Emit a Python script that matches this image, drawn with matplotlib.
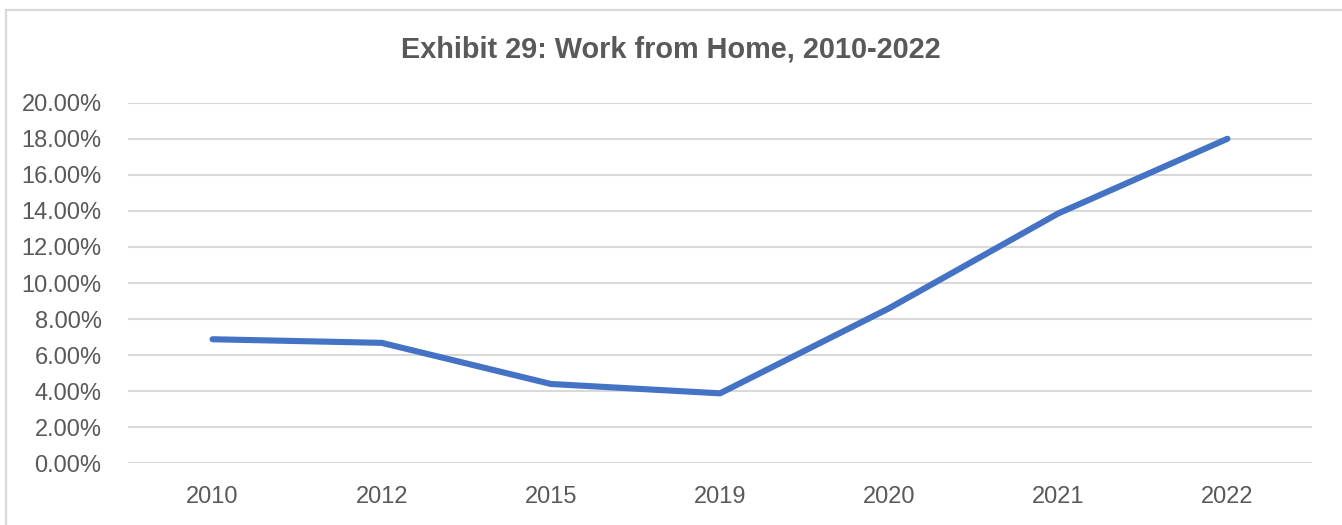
import matplotlib
matplotlib.use("Agg")
import matplotlib.pyplot as plt
from matplotlib.ticker import PercentFormatter
from matplotlib.lines import Line2D

years = ["2010", "2012", "2015", "2019", "2020", "2021", "2022"]
wfh_pct = [6.88, 6.68, 4.40, 3.88, 8.60, 13.86, 18.00]
y_ticks = [0, 2, 4, 6, 8, 10, 12, 14, 16, 18, 20]

W, H = 1342, 525
fig = plt.figure(figsize=(W / 100, H / 100), dpi=100)
fig.patch.set_facecolor("white")

left, right = 128 / W, 1312 / W
bottom, top = (H - 463.3) / H, (H - 102.7) / H
ax = fig.add_axes([left, bottom, right - left, top - bottom])

x = list(range(len(years)))
ax.plot(x, wfh_pct, color="#4472C4", linewidth=4.4, solid_capstyle="round",
        solid_joinstyle="round", zorder=3)

ax.set_xlim(-0.5, len(years) - 0.5)
ax.set_ylim(0, 20)
ax.set_yticks(y_ticks)
ax.yaxis.set_major_formatter(PercentFormatter(decimals=2))
ax.set_xticks(x)
ax.set_xticklabels(years)
ax.grid(axis="y", color="#d9d9d9", linewidth=1.5, zorder=0)
ax.grid(axis="x", visible=False)
for s in ax.spines.values():
    s.set_visible(False)
ax.tick_params(axis="both", length=0, colors="#595959", labelsize=17,
               labelcolor="#595959")
ax.tick_params(axis="y", pad=19)
ax.tick_params(axis="x", pad=16)
for lab in ax.get_xticklabels() + ax.get_yticklabels():
    lab.set_family(["Liberation Sans", "DejaVu Sans"])

fig.text(0.5, (H - 50) / H, "Exhibit 29: Work from Home, 2010-2022",
         ha="center", va="center", fontsize=20.8, fontweight="bold",
         color="#595959", family=["Liberation Sans", "DejaVu Sans"])

# chart border (top and left visible)
fig.add_artist(Line2D([5.5 / W, 1], [(H - 9.5) / H, (H - 9.5) / H],
                      transform=fig.transFigure, color="#d9d9d9", linewidth=1.6))
fig.add_artist(Line2D([5.5 / W, 5.5 / W], [0, (H - 9.5) / H],
                      transform=fig.transFigure, color="#d9d9d9", linewidth=1.6))

fig.savefig("out.png", dpi=100, facecolor="white")
